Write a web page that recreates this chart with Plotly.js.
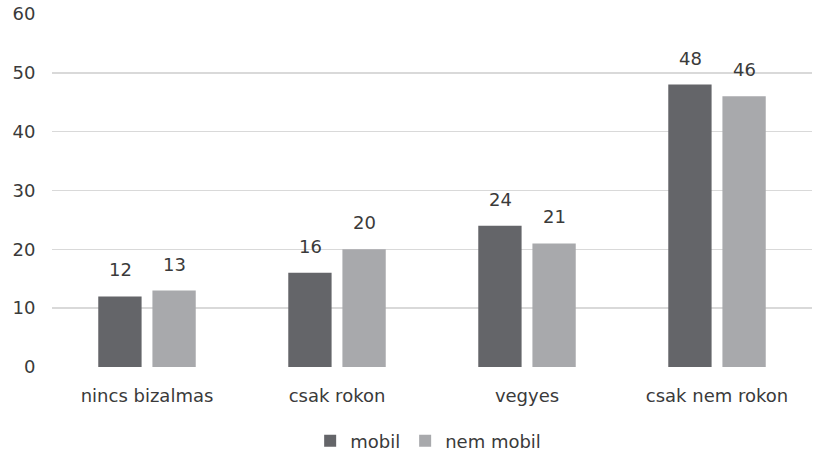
<!DOCTYPE html>
<html>
<head>
<meta charset="utf-8">
<script src="https://cdn.plot.ly/plotly-3.0.1.min.js"></script>
<style>html,body{margin:0;padding:0;background:#fff;}#chart{width:814px;height:457px;}</style>
</head>
<body>
<div id="chart"></div>
<script>
const categories = ["nincs bizalmas", "csak rokon", "vegyes", "csak nem rokon"];
const seriesNames = ["mobil", "nem mobil"];
const mobil = [12, 16, 24, 48];
const nemMobil = [13, 20, 21, 46];
const yTicks = [0, 10, 20, 30, 40, 50, 60];

const fontFam = "DejaVu Sans, sans-serif";
const textColor = "#3a3a3a";
const colors = ["#646569", "#a8a9ac"];
const series = [mobil, nemMobil];

const traces = series.map((vals, i) => ({
  type: "bar", name: seriesNames[i], x: categories, y: vals,
  marker: {color: colors[i]}, hoverinfo: "none"
}));

// value labels as annotations above each bar (offset to the bar centre in the group)
const annotations = [];
series.forEach((vals, i) => {
  vals.forEach((v, j) => {
    annotations.push({
      x: categories[j], y: v, xref: "x", yref: "y",
      text: String(v), showarrow: false, yanchor: "bottom",
      xshift: i === 0 ? -27 : 27, yshift: 14,
      font: {family: fontFam, size: 18, color: textColor}
    });
  });
});

const layout = {
  width: 814, height: 457,
  margin: {l: 52, r: 2, t: 14, b: 90, autoexpand: false},
  paper_bgcolor: "#fff", plot_bgcolor: "#fff",
  font: {family: fontFam, size: 18, color: textColor},
  barmode: "group", bargap: 0.43, bargroupgap: 0.2,
  annotations: annotations,
  xaxis: {showgrid: false, showline: false, zeroline: false, automargin: false,
          ticks: "outside", ticklen: 12, tickcolor: "rgba(0,0,0,0)",
          tickfont: {family: fontFam, size: 18, color: textColor}},
  yaxis: {range: [0, 60], tickvals: yTicks, ticktext: yTicks.map(String), automargin: false,
          showgrid: true, gridcolor: "#d9d9d9", gridwidth: 1.5, zeroline: false,
          showline: false, ticks: "outside", ticklen: 12, tickcolor: "rgba(0,0,0,0)",
          tickfont: {family: fontFam, size: 18, color: textColor}},
  showlegend: true,
  legend: {orientation: "h", x: 0.526, xanchor: "center", xref: "container",
           y: 0.035, yanchor: "middle", yref: "container",
           font: {family: fontFam, size: 18, color: textColor}, itemwidth: 30}
};

Plotly.newPlot("chart", traces, layout, {staticPlot: true, displayModeBar: false});
</script>
</body>
</html>
